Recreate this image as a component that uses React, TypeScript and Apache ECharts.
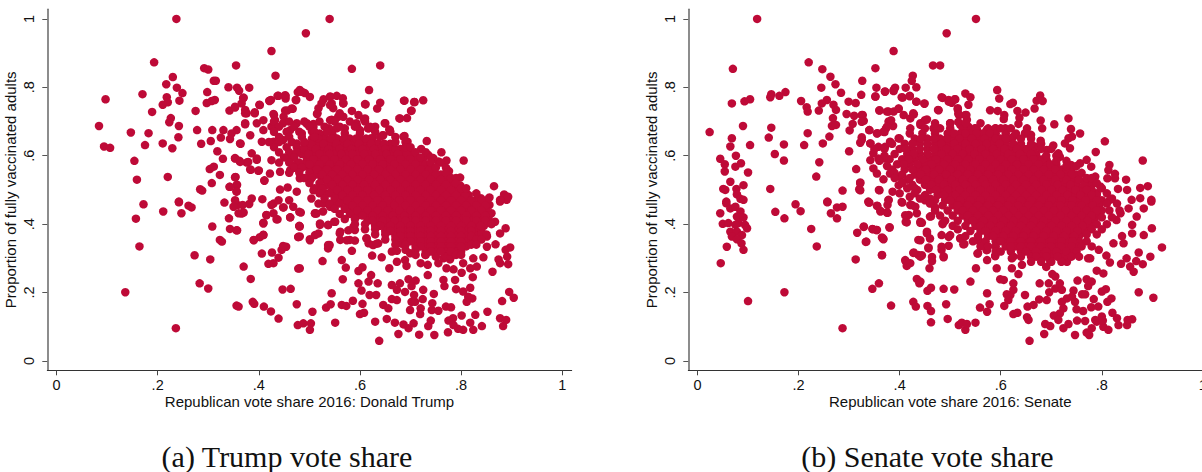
import React, { useEffect, useRef } from "react";
import * as echarts from "echarts";

const xTicks = [0, 0.2, 0.4, 0.6, 0.8, 1];
const yTicks = [0, 0.2, 0.4, 0.6, 0.8, 1];
const xTitleA = "Republican vote share 2016: Donald Trump";
const xTitleB = "Republican vote share 2016: Senate";
const yTitle = "Proportion of fully vaccinated adults";
const captionA = "(a) Trump vote share";
const captionB = "(b) Senate vote share";

const trumpPoints: number[][] = [
[.237,1],[.425,.906],[.193,.873],[.355,.864],[.292,.856],[.3,.852],[.433,.834],[.23,.83],[.311,.819],[.315,.819],[.217,.809],[.34,.8],[.357,.799],[.361,.79],[.381,.799],[.238,.799],[.249,.783],[.298,.786],[.17,.78],[.218,.771],[.097,.765],[.243,.761],[.37,.77],[.313,.763],[.307,.76],[.297,.754],[.22,.756],[.21,.749],[.421,.76],[.424,.763],[.437,.775],[.453,.775],[.453,.767],[.477,.786],[.474,.763],[.401,.749],[.366,.753],[.353,.741],[.342,.732],[.373,.734],[.376,.724],[.189,.728],[.275,.731],[.392,.727],[.467,.737],[.456,.732],[.43,.719],[.449,.714],[.226,.71],[.223,.698],[.084,.687],[.242,.687],[.373,.692],[.278,.675],[.147,.668],[.182,.666],[.308,.675],[.33,.675],[.241,.654],[.325,.653],[.343,.649],[.305,.643],[.175,.631],[.21,.636],[.286,.635],[.364,.635],[.094,.627],[.106,.623],[.229,.622],[.318,.613],[.329,.591],[.353,.593],[.362,.585],[.154,.585],[.376,.58],[.396,.588],[.303,.561],[.311,.568],[.384,.559],[.4,.557],[.323,.544],[.159,.53],[.22,.538],[.354,.538],[.307,.52],[.411,.528],[.357,.515],[.342,.509],[.284,.502],[.288,.498],[.356,.496],[.242,.466],
[.172,.458],[.242,.464],[.211,.437],[.247,.432],[.261,.454],[.267,.449],[.157,.416],[.308,.393],[.332,.463],[.341,.417],[.343,.386],[.357,.382],[.358,.456],[.37,.434],[.36,.432],[.381,.459],[.39,.354],[.402,.362],[.409,.369],[.323,.354],[.327,.349],[.164,.335],[.273,.309],[.304,.297],[.406,.314],[.426,.317],[.37,.276],[.419,.284],[.429,.286],[.439,.302],[.445,.325],[.454,.334],[.283,.227],[.3,.212],[.384,.24],[.136,.201],[.447,.209],[.463,.211],[.388,.173],[.391,.167],[.356,.162],[.36,.159],[.41,.159],[.424,.145],[.439,.124],[.236,.096],[.475,.166],[.477,.105],[.478,.27],[.478,.362],[.48,.395],[.409,.404],[.415,.427],[.429,.432],[.437,.414],[.462,.42],[.425,.456],[.449,.449],
[.638,.059],[.676,.079],[.717,.077],[.747,.076],[.774,.084],[.804,.091],[.824,.091],[.794,.094],[.841,.102],[.883,.102],[.877,.125],[.889,.12],[.852,.144],[.828,.135],[.801,.133],[.784,.125],[.775,.118],[.818,.112],[.785,.105],[.735,.102],[.74,.118],[.706,.11],[.696,.096],[.686,.107],[.669,.112],[.653,.123],[.63,.115],[.551,.112],[.501,.091],[.503,.11],[.488,.11],[.506,.144],[.6,.137],[.608,.141],[.533,.156],[.542,.166],[.564,.164],[.573,.161],[.586,.176],[.605,.167],[.646,.164],[.656,.154],[.663,.181],[.673,.178],[.699,.149],[.72,.154],[.719,.137],[.742,.149],[.755,.147],[.77,.159],[.78,.157],[.702,.173],[.709,.173],[.743,.169],[.724,.181],[.725,.208],[.707,.193],[.746,.196],[.811,.173],[.822,.183],[.814,.188],[.881,.175],[.895,.202],[.904,.185],[.544,.198],[.632,.193],[.619,.193],[.603,.206],[.597,.227],[.617,.232],[.635,.227],[.663,.222],[.673,.208],[.689,.202],[.679,.227],[.696,.239],[.71,.235],[.702,.219],[.566,.239],[.597,.263],[.605,.274],[.622,.251],[.572,.273],[.564,.295],[.526,.292],[.481,.271],[.584,.322],[.624,.308],[.643,.303],[.663,.32],[.673,.322],[.658,.271],[.673,.29],[.689,.295],[.692,.278],[.72,.286],[.734,.281],[.734,.251],[.765,.237],[.767,.219],[.788,.237],[.79,.21],[.804,.203],[.818,.214],[.823,.245],[.801,.258],[.771,.271],[.785,.268],[.818,.271],[.831,.276],[.862,.261],[.877,.286],[.893,.283],[.844,.303],[.824,.3],[.804,.286],[.755,.286],[.874,.297],[.891,.305],[.868,.341],[.897,.332],[.888,.325],[.888,.388],[.877,.373],[.867,.407],[.851,.364],[.851,.334],[.54,.339],[.537,.329],[.501,.356],[.511,.368],[.521,.398],[.537,.398],[.549,.407],[.561,.354],[.561,.378],[.58,.354],[.59,.352],[.59,.383],[.613,.359],[.617,.344],[.636,.344],[.626,.339],[.686,.344],[.699,.315],[.729,.31],[.765,.3],[.778,.297],[.511,.432],[.527,.437],[.483,.434],[.481,.393],[.481,.364],[.89,.471],[.877,.466],[.856,.456],[.841,.456],[.86,.432],
[.54,1],[.493,.958],[.584,.854],[.64,.864],[.618,.792],[.688,.761],[.708,.757],[.725,.762],[.611,.75],[.64,.755],[.634,.738],[.701,.731],[.678,.709],[.693,.71],[.481,.792],[.491,.783],[.501,.772],[.528,.765],[.541,.773],[.554,.775],[.566,.768],[.567,.753],[.544,.753],[.518,.739],[.515,.722],[.547,.739],[.557,.714],[.584,.731],[.567,.714],[.597,.719],[.608,.707],[.544,.705],[.539,.68],[.495,.693],[.508,.693],[.505,.671],[.57,.68],[.594,.687],[.617,.68],[.63,.685],[.65,.695],[.658,.677],[.645,.66],[.622,.651],[.688,.658],[.694,.641],[.732,.643],[.721,.62],[.699,.62],[.761,.61],[.735,.602],[.725,.593],[.805,.586],[.771,.586],[.776,.555],[.755,.583],[.745,.593],[.798,.536],[.798,.513],[.8,.491],[.781,.524],[.865,.511],[.839,.476],[.856,.478],[.814,.476],[.885,.487],[.893,.48],[.877,.471],[.781,.495],[.778,.471],
[.369,.768],[.353,.743],[.373,.724],[.392,.724],[.402,.748],[.421,.761],[.439,.775],[.452,.777],[.473,.763],[.485,.787],[.429,.722],[.452,.732],[.465,.738],[.409,.704],[.432,.704],[.396,.695],[.373,.695],[.356,.675],[.346,.665],[.383,.66],[.409,.675],[.425,.685],[.448,.695],[.475,.695],[.495,.695],[.508,.685],[.462,.675],[.485,.665],[.363,.636],[.406,.641],[.429,.641],[.448,.646],[.475,.636],[.386,.607],[.353,.592],[.363,.582],[.379,.582],[.396,.592],[.425,.587],[.383,.56],[.399,.556],[.422,.548],[.442,.553],[.462,.597],[.475,.577],[.462,.558],[.481,.534],[.411,.527],[.353,.537],[.356,.514],[.356,.495],[.343,.509],[.442,.501],[.457,.507],[.475,.495],[.504,.475],[.518,.46],[.407,.473],[.386,.475],[.368,.456],[.353,.47],[.35,.451],[.429,.46],[.439,.47],[.448,.449],[.46,.47],[.468,.451],[.48,.436],[.366,.431],[.415,.426],[.435,.414],[.409,.402],[.462,.42],[.48,.394],[.511,.431],[.521,.402],[.537,.397],[.551,.407],[.501,.353],[.478,.363],[.409,.368],[.39,.353],[.356,.382],[.518,.373],[.537,.339],[.448,.336],[.56,.373],[.577,.382],[.574,.353],[.587,.392],[.613,.358],[.633,.343],[.682,.343],[.516,.724],[.524,.753],[.541,.772],[.567,.753],[.541,.748],[.61,.709],[.593,.695],[.541,.704],[.56,.724],[.554,.68],[.6,.675],[.616,.68],[.649,.695],[.659,.675],[.646,.66],[.679,.709],[.702,.732],[.687,.761],[.707,.757],[.61,.751],[.686,.656],[.659,.631],[.593,.646],[.574,.646],[.547,.656],[.528,.656],[.495,.612],[.514,.616],[.541,.616],[.495,.568],[.501,.529],[.508,.499],[.534,.49],[.528,.46],[.541,.451],[.554,.46],[.514,.431],
];

const trumpDenseRows: [number, number[]][] = [
[.665,[.52,.545,.57,.6]],
[.65,[.505,.53,.555,.58,.6,.625]],
[.635,[.49,.515,.54,.565,.585,.61,.635,.66]],
[.62,[.5,.525,.55,.57,.595,.615,.64,.66,.68]],
[.605,[.485,.51,.53,.55,.575,.595,.62,.64,.665,.685,.7]],
[.59,[.495,.52,.54,.56,.585,.605,.63,.65,.67,.69,.71]],
[.575,[.49,.51,.53,.55,.57,.595,.615,.635,.655,.68,.7,.72,.73]],
[.56,[.505,.525,.545,.565,.585,.605,.625,.65,.67,.69,.71,.73,.745]],
[.545,[.515,.535,.555,.575,.595,.615,.64,.66,.68,.7,.72,.74,.76]],
[.53,[.525,.545,.565,.585,.605,.63,.65,.67,.69,.71,.73,.75,.77]],
[.515,[.535,.555,.575,.595,.62,.64,.66,.68,.7,.72,.74,.76,.78]],
[.5,[.545,.565,.585,.605,.625,.65,.67,.69,.71,.73,.75,.77,.79]],
[.485,[.555,.575,.595,.615,.64,.66,.68,.7,.72,.74,.76,.78,.8,.815]],
[.47,[.565,.585,.605,.625,.645,.665,.69,.71,.73,.75,.77,.79,.81,.83,.85]],
[.455,[.575,.595,.615,.635,.655,.68,.7,.72,.74,.76,.78,.8,.82,.84]],
[.44,[.585,.605,.625,.645,.665,.69,.71,.73,.75,.77,.79,.81,.83,.85]],
[.425,[.595,.615,.635,.655,.675,.7,.72,.74,.76,.78,.8,.82,.84,.855]],
[.41,[.615,.635,.655,.68,.7,.72,.74,.76,.78,.8,.82,.84,.855]],
[.395,[.63,.65,.67,.69,.71,.73,.75,.77,.79,.81,.83,.845]],
[.38,[.65,.67,.69,.71,.73,.75,.77,.79,.81,.83,.84]],
[.365,[.67,.69,.71,.73,.75,.77,.79,.81,.83]],
[.35,[.69,.71,.73,.75,.77,.79,.81,.82]],
[.335,[.71,.73,.75,.77,.79,.81]],
[.32,[.73,.75,.77,.79,.8]],
[.305,[.75,.77,.78]],
];

const trumpCoreRows: [number, number[]][] = [
[.65,[.518,.543,.568,.592,.612]],
[.635,[.503,.528,.553,.575,.598,.622,.648]],
[.62,[.488,.513,.538,.56,.583,.605,.628,.65,.67]],
[.605,[.498,.52,.54,.563,.585,.608,.63,.652,.675,.692]],
[.59,[.508,.53,.55,.572,.595,.618,.64,.66,.68,.7]],
[.575,[.5,.52,.54,.56,.582,.605,.625,.645,.668,.69,.71]],
[.56,[.515,.535,.555,.575,.595,.615,.638,.66,.68,.7,.72,.738]],
[.545,[.525,.545,.565,.585,.605,.628,.65,.67,.69,.71,.73,.75]],
[.53,[.535,.555,.575,.595,.618,.64,.66,.68,.7,.72,.74,.76]],
[.515,[.545,.565,.585,.608,.63,.65,.67,.69,.71,.73,.75,.77]],
[.5,[.555,.575,.595,.615,.638,.66,.68,.7,.72,.74,.76,.78]],
[.485,[.565,.585,.605,.628,.65,.67,.69,.71,.73,.75,.77,.79,.808]],
[.47,[.575,.595,.615,.635,.655,.678,.7,.72,.74,.76,.78,.8,.82,.84]],
[.455,[.585,.605,.625,.645,.668,.69,.71,.73,.75,.77,.79,.81,.83,.848]],
[.44,[.595,.615,.635,.655,.678,.7,.72,.74,.76,.78,.8,.82,.84]],
[.425,[.605,.625,.645,.665,.688,.71,.73,.75,.77,.79,.81,.83,.848]],
[.41,[.625,.645,.668,.69,.71,.73,.75,.77,.79,.81,.83,.848]],
[.395,[.64,.66,.68,.7,.72,.74,.76,.78,.8,.82,.838]],
[.38,[.66,.68,.7,.72,.74,.76,.78,.8,.82]],
[.365,[.68,.7,.72,.74,.76,.78,.8,.82]],
[.35,[.7,.72,.74,.76,.78,.8]],
[.335,[.72,.74,.76,.78,.8]],
[.32,[.74,.76,.78]],
];

const trumpFringeRows: [number, number[]][] = [
[.7,[.43,.46,.49,.52,.55,.58,.61]],
[.685,[.44,.47,.5,.53,.56,.59,.62]],
[.67,[.43,.455,.48,.51,.535,.63,.66]],
[.655,[.44,.46,.485,.51,.64,.67]],
[.64,[.42,.44,.465,.49,.67,.69]],
[.625,[.43,.455,.475,.69,.7]],
[.61,[.44,.46,.475,.71,.73]],
[.595,[.45,.47,.72,.74]],
[.58,[.44,.46,.48,.74,.76]],
[.565,[.47,.485,.75,.77]],
[.55,[.46,.48,.5,.77]],
[.535,[.49,.505,.78,.79]],
[.52,[.5,.52,.79]],
[.505,[.51,.525,.8,.81]],
[.49,[.52,.54,.83]],
[.475,[.53,.55]],
[.46,[.54,.56]],
[.445,[.55,.57]],
[.43,[.56,.58]],
[.415,[.57,.59]],
[.4,[.59,.61,.86]],
[.385,[.61,.63]],
[.37,[.63,.65,.84,.85]],
[.355,[.65,.67,.83,.84]],
[.34,[.67,.69,.82,.83]],
[.325,[.69,.71]],
[.31,[.71,.73,.79,.8]],
];

const senatePoints: number[][] = [
[.118,1],[.388,.906],[.22,.873],[.352,.856],[.07,.854],[.247,.853],[.263,.831],[.426,.834],[.424,.819],[.326,.819],[.273,.809],[.245,.799],[.354,.799],[.391,.799],[.388,.792],[.371,.788],[.412,.799],[.433,.8],[.284,.784],[.324,.778],[.174,.786],[.162,.775],[.146,.78],[.144,.771],[.42,.775],[.406,.77],[.352,.773],[.104,.765],[.093,.759],[.068,.753],[.205,.76],[.299,.758],[.313,.754],[.433,.758],[.256,.763],[.246,.753],[.269,.749],[.216,.742],[.218,.729],[.24,.732],[.274,.734],[.36,.732],[.378,.729],[.398,.737],[.295,.722],[.31,.717],[.325,.719],[.329,.702],[.268,.71],[.428,.721],[.09,.687],[.146,.682],[.266,.687],[.274,.69],[.307,.693],[.301,.674],[.378,.7],[.387,.687],[.373,.68],[.34,.675],[.356,.666],[.37,.669],[.024,.669],[.218,.666],[.068,.651],[.141,.653],[.261,.656],[.248,.636],[.325,.654],[.322,.638],[.342,.636],[.065,.627],[.104,.631],[.171,.633],[.211,.631],[.3,.613],[.076,.6],[.153,.605],[.045,.591],[.054,.575],[.075,.568],[.086,.578],[.171,.586],[.241,.581],[.054,.554],[.1,.551],[.314,.561],[.235,.539],[.322,.522],[.32,.502],[.065,.524],[.091,.514],[.051,.503],[.055,.5],[.077,.503],[.144,.503],[.287,.498],[.359,.5],[.078,.487],[.085,.474],[.057,.466],[.257,.466],[.338,.466],[.378,.471],
[.057,.461],[.091,.471],[.045,.432],[.05,.401],[.065,.446],[.075,.451],[.085,.437],[.078,.422],[.091,.42],[.081,.403],[.061,.403],[.075,.398],[.094,.398],[.098,.388],[.065,.378],[.078,.378],[.088,.368],[.068,.364],[.078,.356],[.058,.334],[.087,.344],[.091,.325],[.046,.286],[.1,.175],[.172,.201],[.287,.096],[.154,.436],[.172,.417],[.194,.458],[.204,.438],[.225,.386],[.236,.335],[.257,.464],[.264,.432],[.276,.417],[.276,.449],[.287,.451],[.339,.463],[.316,.375],[.329,.393],[.334,.349],[.346,.386],[.354,.383],[.365,.361],[.368,.356],[.38,.391],[.313,.297],[.365,.31],[.346,.211],[.359,.227],[.383,.162],[.356,.453],[.362,.437],[.375,.434],[.376,.456],[.405,.463],[.412,.407],[.418,.427],[.437,.354],[.428,.317],[.437,.31],[.412,.292],[.414,.278],[.421,.286],[.434,.24],[.439,.227],[.427,.173],[.432,.159],[.441,.404],[.424,.456],[.434,.432],
[.657,.059],[.686,.079],[.747,.076],[.775,.076],[.77,.083],[.53,.091],[.55,.112],[.517,.105],[.523,.112],[.533,.108],[.462,.113],[.495,.123],[.655,.12],[.652,.128],[.625,.137],[.633,.141],[.559,.156],[.573,.144],[.578,.166],[.455,.161],[.462,.146],[.492,.166],[.607,.161],[.615,.178],[.619,.193],[.612,.195],[.455,.205],[.462,.214],[.487,.211],[.508,.209],[.54,.232],[.573,.198],[.625,.208],[.648,.193],[.653,.159],[.665,.164],[.676,.18],[.691,.178],[.696,.201],[.599,.239],[.606,.237],[.625,.227],[.677,.227],[.695,.227],[.708,.212],[.721,.208],[.717,.227],[.708,.247],[.702,.254],[.752,.235],[.77,.239],[.78,.232],[.773,.219],[.744,.206],[.731,.183],[.721,.173],[.741,.188],[.747,.173],[.761,.195],[.784,.181],[.767,.195],[.8,.203],[.808,.21],[.819,.183],[.811,.173],[.779,.157],[.793,.159],[.75,.151],[.763,.146],[.724,.154],[.717,.139],[.705,.133],[.714,.12],[.688,.108],[.698,.102],[.734,.108],[.724,.096],[.751,.118],[.767,.117],[.787,.12],[.8,.13],[.79,.115],[.803,.1],[.813,.091],[.78,.096],[.802,.118],[.821,.141],[.83,.125],[.833,.105],[.85,.105],[.86,.122],[.851,.12],[.873,.201],[.902,.185],[.79,.264],[.803,.256],[.838,.284],[.849,.3],[.856,.276],[.863,.261],[.868,.292],[.881,.283],[.896,.305],[.873,.317],[.919,.332],[.816,.288],[.809,.308],[.777,.3],[.794,.325],[.823,.344],[.843,.344],[.84,.365],[.883,.368],[.899,.388],[.86,.373],[.86,.398],[.869,.422],[.853,.446],[.883,.446],[.898,.466],[.837,.432],[.829,.412],[.555,.315],[.551,.271],[.589,.307],[.573,.295],[.592,.271],[.622,.271],[.635,.254],[.622,.3],[.642,.281],[.485,.403],[.483,.368],[.5,.368],[.52,.359],[.526,.341],[.555,.354],[.573,.325],[.487,.303],[.497,.337],[.483,.325],[.459,.271],[.464,.292],[.441,.232],[.457,.329],[.441,.305],[.454,.373],[.441,.407],[.46,.422],[.671,.31],[.698,.29],[.731,.29],[.773,.3],
[.551,1],[.493,.958],[.466,.864],[.48,.864],[.593,.792],[.597,.767],[.53,.782],[.54,.771],[.536,.749],[.485,.769],[.497,.763],[.509,.765],[.449,.752],[.503,.755],[.476,.734],[.579,.733],[.594,.731],[.619,.751],[.624,.755],[.678,.776],[.671,.761],[.683,.76],[.667,.738],[.649,.726],[.633,.731],[.607,.719],[.606,.707],[.637,.711],[.635,.693],[.515,.739],[.516,.722],[.53,.719],[.533,.705],[.536,.685],[.454,.706],[.441,.695],[.5,.695],[.52,.69],[.679,.703],[.682,.68],[.706,.692],[.734,.709],[.739,.678],[.652,.68],[.66,.661],[.648,.666],[.757,.665],[.741,.656],[.734,.651],[.727,.636],[.737,.622],[.806,.642],[.788,.611],[.881,.586],[.757,.578],[.77,.588],[.779,.568],[.739,.573],[.787,.539],[.815,.573],[.813,.558],[.826,.547],[.811,.534],[.826,.534],[.848,.53],[.876,.506],[.891,.511],[.85,.5],[.832,.503],[.797,.51],[.79,.49],[.816,.471],[.859,.471],[.876,.476],[.898,.471],[.691,.585],[.717,.597],[.714,.607],[.704,.63],[.691,.617],[.679,.644],[.668,.627],[.625,.656],[.589,.68],[.576,.676],[.553,.676],
[.352,.773],[.371,.787],[.388,.789],[.404,.771],[.42,.774],[.433,.758],[.449,.753],[.483,.771],[.497,.758],[.51,.765],[.477,.733],[.36,.733],[.375,.729],[.388,.729],[.398,.738],[.408,.719],[.427,.724],[.421,.709],[.327,.719],[.325,.699],[.515,.735],[.518,.719],[.532,.719],[.383,.704],[.375,.685],[.368,.67],[.34,.675],[.355,.665],[.325,.646],[.45,.704],[.441,.69],[.421,.68],[.398,.651],[.381,.641],[.5,.694],[.516,.699],[.549,.68],[.467,.68],[.48,.68],[.513,.651],[.526,.641],[.572,.675],[.609,.68],[.342,.636],[.348,.607],[.358,.626],[.371,.626],[.342,.587],[.348,.563],[.358,.592],[.371,.592],[.355,.548],[.368,.531],[.381,.548],[.4,.538],[.398,.514],[.36,.499],[.386,.495],[.4,.49],[.404,.465],[.42,.48],[.322,.519],[.322,.499],[.34,.463],[.355,.454],[.362,.439],[.378,.47],[.376,.433],[.421,.456],[.431,.451],[.45,.47],[.47,.449],[.411,.426],[.414,.405],[.444,.404],[.462,.423],[.329,.392],[.347,.385],[.355,.383],[.38,.39],[.367,.358],[.333,.348],[.365,.309],[.485,.4],[.497,.363],[.52,.358],[.528,.342],[.556,.353],[.554,.314],[.572,.324],[.589,.307],[.454,.378],[.441,.353],[.46,.358],[.457,.332],[.427,.316],[.483,.334],[.487,.306],[.444,.309],[.464,.304],[.411,.295],
];

const senateDenseRows: [number, number[]][] = [
[.68,[.45,.475,.5,.525,.55,.575,.59]],
[.665,[.42,.445,.47,.495,.52,.54,.565,.59,.61]],
[.65,[.4,.43,.455,.48,.505,.53,.555,.58,.6,.62]],
[.635,[.385,.41,.44,.47,.495,.52,.54,.56,.585,.61,.64]],
[.62,[.37,.4,.425,.455,.48,.505,.525,.55,.575,.595,.62,.645,.66]],
[.605,[.39,.415,.44,.47,.495,.515,.535,.56,.58,.605,.625,.65,.67]],
[.59,[.38,.405,.43,.46,.485,.505,.525,.545,.57,.59,.61,.635,.655,.675,.69]],
[.575,[.395,.42,.45,.475,.5,.52,.54,.56,.58,.6,.62,.645,.665,.685,.71]],
[.56,[.385,.41,.44,.465,.49,.51,.53,.55,.57,.59,.61,.635,.655,.675,.695,.72,.74]],
[.545,[.405,.43,.455,.48,.505,.525,.545,.565,.585,.605,.625,.645,.665,.685,.705,.73,.75]],
[.53,[.415,.44,.465,.49,.515,.535,.555,.575,.595,.615,.635,.655,.675,.695,.72,.74,.77]],
[.515,[.425,.45,.475,.5,.52,.54,.56,.58,.6,.62,.64,.66,.68,.7,.725,.75,.78]],
[.5,[.435,.46,.485,.505,.53,.55,.57,.59,.61,.63,.65,.67,.69,.71,.735,.76,.78]],
[.485,[.45,.475,.5,.52,.54,.56,.58,.6,.62,.64,.66,.68,.7,.72,.745,.77,.79]],
[.47,[.47,.49,.51,.53,.55,.57,.59,.61,.63,.65,.67,.69,.71,.73,.755,.78,.8]],
[.455,[.485,.505,.525,.545,.565,.585,.605,.625,.645,.665,.685,.705,.73,.75,.77,.795]],
[.44,[.495,.515,.535,.555,.575,.595,.615,.635,.655,.675,.695,.715,.74,.76,.78,.8]],
[.425,[.505,.525,.545,.565,.585,.605,.625,.645,.665,.685,.705,.73,.75,.77,.79]],
[.41,[.515,.535,.555,.575,.595,.615,.635,.655,.675,.695,.72,.74,.76,.785]],
[.395,[.53,.55,.57,.59,.61,.63,.65,.67,.69,.71,.73,.75,.775]],
[.38,[.54,.56,.58,.6,.62,.64,.66,.68,.7,.72,.74,.765]],
[.365,[.555,.575,.595,.615,.635,.655,.675,.695,.715,.735,.755]],
[.35,[.57,.59,.61,.63,.65,.67,.69,.71,.73,.755]],
[.335,[.59,.61,.63,.65,.67,.69,.71,.73,.75]],
[.32,[.62,.64,.66,.68,.7,.72,.74]],
[.305,[.66,.68,.7,.725]],
[.29,[.7,.72]],
];

const senateCoreRows: [number, number[]][] = [
[.665,[.508,.53,.552,.578]],
[.65,[.442,.468,.493,.518,.543,.568,.59,.61]],
[.635,[.425,.455,.483,.508,.53,.55,.572,.598,.625]],
[.62,[.412,.44,.468,.493,.515,.538,.562,.585,.608,.632,.652]],
[.605,[.428,.455,.483,.505,.525,.548,.57,.592,.615,.638,.66]],
[.59,[.418,.445,.472,.495,.515,.535,.558,.58,.6,.622,.645,.665,.683]],
[.575,[.408,.435,.463,.488,.51,.53,.55,.57,.59,.61,.632,.655,.675,.698]],
[.56,[.425,.452,.478,.5,.52,.54,.56,.58,.6,.622,.645,.665,.685,.708,.73]],
[.545,[.442,.468,.492,.515,.535,.555,.575,.595,.615,.635,.655,.675,.695,.718,.74]],
[.53,[.452,.478,.503,.525,.545,.565,.585,.605,.625,.645,.665,.685,.708,.73,.755]],
[.515,[.463,.488,.51,.53,.55,.57,.59,.61,.63,.65,.67,.69,.712,.738,.765]],
[.5,[.472,.495,.518,.54,.56,.58,.6,.62,.64,.66,.68,.7,.722,.748,.77]],
[.485,[.488,.51,.53,.55,.57,.59,.61,.63,.65,.67,.69,.71,.732,.758,.78]],
[.47,[.5,.52,.54,.56,.58,.6,.62,.64,.66,.68,.7,.72,.742,.768,.79]],
[.455,[.515,.535,.555,.575,.595,.615,.635,.655,.675,.695,.718,.74,.76,.782]],
[.44,[.525,.545,.565,.585,.605,.625,.645,.665,.685,.705,.728,.75,.77,.79]],
[.425,[.535,.555,.575,.595,.615,.635,.655,.675,.695,.718,.74,.76,.78]],
[.41,[.545,.565,.585,.605,.625,.645,.665,.685,.708,.73,.75,.772]],
[.395,[.56,.58,.6,.62,.64,.66,.68,.7,.72,.74,.762]],
[.38,[.57,.59,.61,.63,.65,.67,.69,.71,.73,.752]],
[.365,[.585,.605,.625,.645,.665,.685,.705,.725,.745]],
[.35,[.6,.62,.64,.66,.68,.7,.72,.742]],
[.335,[.62,.64,.66,.68,.7,.72,.74]],
[.32,[.65,.67,.69,.71,.73]],
[.305,[.67,.69,.712]],
];

const senateFringeRows: [number, number[]][] = [
[.695,[.47,.5,.53,.56]],
[.68,[.6,.62]],
[.665,[.63,.65]],
[.65,[.64,.66]],
[.635,[.66,.68]],
[.62,[.35,.68,.7]],
[.6,[.37,.69,.71]],
[.585,[.36,.71,.73]],
[.57,[.375,.73,.75]],
[.55,[.39,.76]],
[.535,[.39,.42,.77,.78]],
[.52,[.405,.79]],
[.505,[.415,.43,.8]],
[.49,[.43,.81]],
[.475,[.44,.46,.82]],
[.46,[.46,.81,.83]],
[.44,[.47,.815,.835]],
[.425,[.48]],
[.42,[.8,.82]],
[.41,[.49]],
[.4,[.79,.81]],
[.395,[.505]],
[.385,[.515,.78,.8]],
[.37,[.77,.79]],
[.365,[.53]],
[.35,[.545,.77]],
[.335,[.56,.575,.76,.78]],
[.32,[.59,.6,.75]],
[.305,[.625,.64,.74,.755]],
[.29,[.66,.68]],
[.275,[.69]],
];

const DOT = "#BE0A37";
const fmt = (v: number) => (v === 0 || v === 1 ? String(v) : String(+v.toFixed(1)).replace(/^0/, ""));
const SANS = "'Liberation Sans', Arial, sans-serif";
const SERIF = "'Liberation Serif', serif";

const expand = (rows: [number, number[]][]) => rows.flatMap(([y, xs]) => xs.map((x) => [x, y]));

function xAxis(gridIndex: number, name: string) {
  return {
    type: "value", gridIndex, min: -0.0182, max: 1.0186, name, nameLocation: "middle", nameGap: 24, nameMoveOverlap: false,
    nameTextStyle: { color: "#111", fontSize: 15, fontFamily: SANS },
    splitLine: { show: false },
    axisLine: { onZero: false, lineStyle: { color: "#333", width: 1 } },
    axisTick: { length: 5, lineStyle: { color: "#444", width: 1 }, customValues: xTicks },
    axisLabel: { color: "#111", fontSize: 14.5, fontFamily: SANS, margin: 7, customValues: xTicks, formatter: fmt },
  };
}
function yAxis(gridIndex: number) {
  return {
    type: "value", gridIndex, min: -0.0272, max: 1.028, name: yTitle, nameLocation: "middle", nameGap: 29, nameRotate: 90,
    nameTextStyle: { color: "#111", fontSize: 15, fontFamily: SANS },
    splitLine: { show: false },
    axisLine: { onZero: false, lineStyle: { color: "#707070", width: 1.6 } },
    axisTick: { length: 5, lineStyle: { color: "#555", width: 1 }, customValues: yTicks },
    axisLabel: { color: "#111", fontSize: 14.5, fontFamily: SANS, margin: 11, rotate: 90, customValues: yTicks, formatter: fmt },
  };
}
function scatter(i: number, data: number[][]) {
  return { type: "scatter", xAxisIndex: i, yAxisIndex: i, symbol: "circle", symbolSize: 8.5, itemStyle: { color: DOT, opacity: 1 }, data, silent: true };
}

export default function App() {
  const ref = useRef<HTMLDivElement>(null);
  useEffect(() => {
    const chart = echarts.init(ref.current!, null, { renderer: "svg" });
    chart.setOption({
      animation: false,
      backgroundColor: "#fff",
      grid: [
        { left: 47.3, top: 9.3, width: 524.4, height: 361, outerBoundsMode: "none" },
        { left: 688.3, top: 9.3, width: 524, height: 361, outerBoundsMode: "none" },
      ],
      xAxis: [xAxis(0, xTitleA), xAxis(1, xTitleB)],
      yAxis: [yAxis(0), yAxis(1)],
      series: [
        scatter(0, [...trumpPoints, ...expand(trumpDenseRows), ...expand(trumpCoreRows), ...expand(trumpFringeRows)]),
        scatter(1, [...senatePoints, ...expand(senateDenseRows), ...expand(senateCoreRows), ...expand(senateFringeRows)]),
      ],
      graphic: [
        { type: "text", x: 287, y: 456.5, style: { text: captionA, font: `30px ${SERIF}`, fill: "#111", textAlign: "center", textVerticalAlign: "middle" } },
        { type: "text", x: 927.5, y: 456.5, style: { text: captionB, font: `30px ${SERIF}`, fill: "#111", textAlign: "center", textVerticalAlign: "middle" } },
      ],
    });
    return () => chart.dispose();
  }, []);
  return <div ref={ref} style={{ position: "absolute", left: 0, top: 0, width: 1202, height: 472, overflow: "hidden" }} />;
}
